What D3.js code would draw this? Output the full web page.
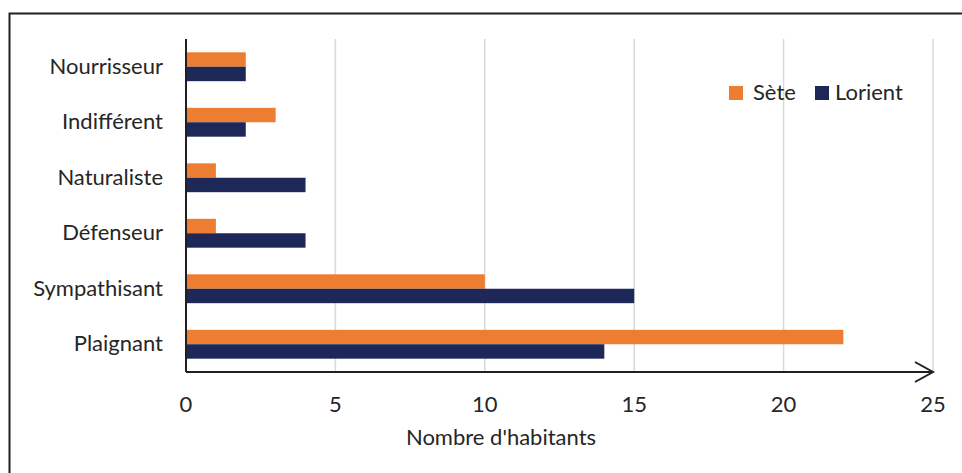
<!DOCTYPE html>
<html><head><meta charset="utf-8">
<script src="https://cdn.jsdelivr.net/npm/d3@7"></script>
<style>body{margin:0;background:#fff}svg{display:block}text{font-family:Lato,sans-serif;fill:#262626}</style>
</head><body><svg id="c" width="962" height="473"></svg>
<script>
const categories = ["Nourrisseur","Indifférent","Naturaliste","Défenseur","Sympathisant","Plaignant"];
const seriesNames = ["Sète","Lorient"];
const seteValues = [2,3,1,1,10,22];
const lorientValues = [2,2,4,4,15,14];
const xTicks = [0,5,10,15,20,25];
const colors = ["#ED7D31","#1D2758"];
const xTitle = "Nombre d'habitants";

const svg = d3.select("#c");
const L = 186, R = 933, T = 39, B = 372;
const FS = 22;
svg.append("rect").attr("x",9.5).attr("y",13.5).attr("width",1000).attr("height",1000)
  .attr("fill","none").attr("stroke","#231f20").attr("stroke-width",2);

const x = d3.scaleLinear().domain([0,25]).range([L,R]);
const y = d3.scaleBand().domain(categories).range([T,B]).paddingInner(0.48).paddingOuter(0.24);
const ys = d3.scaleBand().domain(seriesNames).range([0,y.bandwidth()]);

svg.append("g").selectAll("line").data(xTicks.filter(d=>d>0)).join("line")
  .attr("x1",d=>x(d)).attr("x2",d=>x(d)).attr("y1",T).attr("y2",B)
  .attr("stroke","#d9d9d9").attr("stroke-width",1.5);

const data = categories.map((c,i)=>({c, vals:[seteValues[i], lorientValues[i]]}));
const g = svg.append("g");
data.forEach(d=>{
  d.vals.forEach((v,j)=>{
    g.append("rect").attr("x",x(0)).attr("y",y(d.c)+ys(seriesNames[j]))
      .attr("width",x(v)-x(0)).attr("height",ys.bandwidth()).attr("fill",colors[j]);
  });
});

svg.append("line").attr("x1",L).attr("x2",L).attr("y1",T).attr("y2",B).attr("stroke","#231f20").attr("stroke-width",2);
svg.append("line").attr("x1",L).attr("x2",R).attr("y1",B).attr("y2",B).attr("stroke","#231f20").attr("stroke-width",2);
svg.append("path").attr("d",`M${R-18},${B-10}L${R},${B}L${R-18},${B+10}`).attr("fill","none").attr("stroke","#231f20").attr("stroke-width",2);

svg.append("g").selectAll("text").data(xTicks).join("text")
  .attr("x",d=>x(d)).attr("y",412).attr("text-anchor","middle").attr("font-size",FS).text(d=>d);
svg.append("text").attr("x",501).attr("y",445).attr("text-anchor","middle").attr("font-size",FS).text(xTitle);

svg.append("g").selectAll("text").data(categories).join("text")
  .attr("x",163).attr("y",d=>y(d)+y.bandwidth()/2+7).attr("text-anchor","end").attr("font-size",FS).text(d=>d);

const lg = svg.append("g");
const lx = [729, 815];
seriesNames.forEach((s,j)=>{
  lg.append("rect").attr("x",lx[j]).attr("y",86).attr("width",14).attr("height",14).attr("fill",colors[j]);
  lg.append("text").attr("x",lx[j]+(j?20:24)).attr("y",100).attr("font-size",FS).text(s);
});
</script></body></html>
